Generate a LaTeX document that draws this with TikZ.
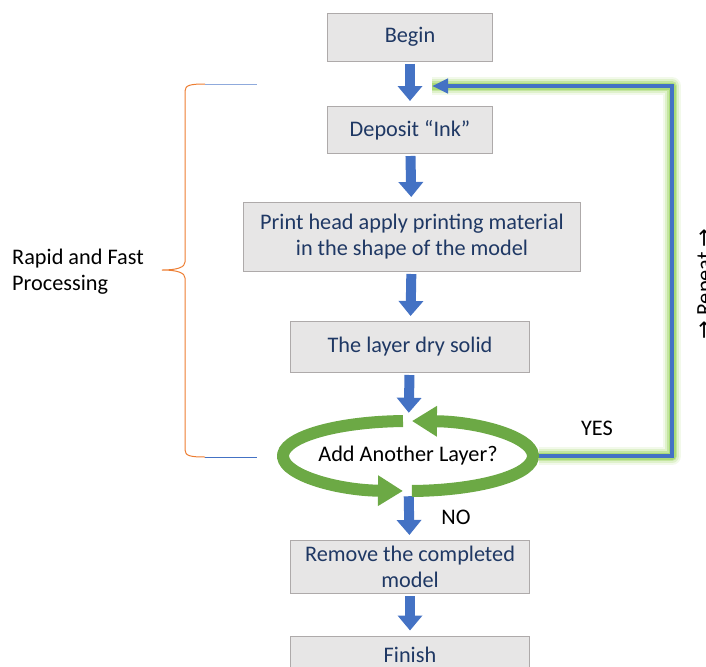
\documentclass[tikz,border=0pt]{standalone}
\usepackage{fontspec}
\setmainfont{Carlito}
\newfontfamily\symfont{DejaVu Sans}
\usetikzlibrary{arrows.meta,shapes.geometric}
\definecolor{boxgray}{HTML}{E7E6E6}
\definecolor{edgegray}{HTML}{AEAAAA}
\definecolor{inkblue}{HTML}{1F3864}
\definecolor{flowblue}{HTML}{4472C4}
\definecolor{ringgreen}{HTML}{6CA945}
\definecolor{glowgreen}{HTML}{92D050}
\definecolor{braceorange}{HTML}{ED7D31}
\definecolor{lineblue}{HTML}{8FAADC}
\newlength\pxl
\setlength\pxl{0.03cm}

\begin{document}
\begin{tikzpicture}
    [x=\pxl,y=-\pxl,
     font=\fontsize{19}{22.2}\selectfont,
     box/.style={draw=edgegray,line width=1\pxl,fill=boxgray,text=inkblue,align=center,inner sep=0pt},
     blk/.style={flowblue,line width=10\pxl,-{Triangle[length=0.45cm,width=0.72cm]},shorten <=2\pxl,shorten >=5\pxl},
     ring/.style={ringgreen,line width=12\pxl,-{Triangle[length=0.75cm,width=0.87cm]}}]

    \useasboundingbox (0,0) rectangle (706,666);

\node[box,minimum width=165\pxl,minimum height=48\pxl] (beg) at (410,37) {Begin};
\node[box,minimum width=165\pxl,minimum height=47\pxl] (ink) at (410,130) {Deposit “Ink”};
\node[box,minimum width=337\pxl,minimum height=69\pxl] (head) at (412,237) {Print head apply printing material\\in the shape of the model};
\node[box,minimum width=239\pxl,minimum height=51\pxl] (dry) at (410,347) {The layer dry solid};
\node[ellipse,inner sep=0pt,minimum width=262\pxl,minimum height=76\pxl] (add) at (408,456) {Add Another Layer?};
\node[box,minimum width=239\pxl,minimum height=53\pxl] (rem) at (410,567) {Remove the completed\\model};
\node[box,minimum width=239\pxl,minimum height=38\pxl] (fin) at (410,655) {Finish};

% main flow
\draw[blk] (beg) -- (ink);
\draw[blk] (ink) -- (head);
\draw[blk] (head) -- (dry);
\draw[blk] (dry) -- (add);
\draw[blk] (add) -- (rem);
\draw[blk] (rem) -- (fin);

% loop ring
\draw[ring] (add.center) ++(267.7:125 and 35) arc[start angle=267.7,end angle=92.3,x radius=125,y radius=35];
\draw[ring] (add.center) ++(88.2:125 and 35) arc[start angle=88.2,end angle=-88.2,x radius=125,y radius=35];

% repeat path
\coordinate (c1) at (672,456);
\coordinate (c2) at (672,86);
\coordinate (back) at (432,86);
\foreach \w/\o in {18/0.12,14/0.2,10/0.35,7/0.5}
  \draw[glowgreen,opacity=\o,line width=\w\pxl,line join=round] (add.east) -- (c1) -- (c2) -- (back);
\draw[flowblue,line width=4\pxl,-{Triangle[length=0.48cm,width=0.42cm]}] (add.east) -- (c1) -- (c2) -- (back);

\node (yes) at (597,428) {YES};
\node (no) at (456,517) {NO};
\node[rotate=90,anchor=north,inner sep=0pt] (rep) at (697,284) {{\symfont →} Repeat {\symfont →}};

% brace
\coordinate (bt) at (205,84);
\coordinate (bb) at (205,457);
\coordinate (tip) at (162,270);
\coordinate (bt2) at (257,84);
\coordinate (bb2) at (257,457);
\draw[braceorange,line width=1\pxl]
  (bt) .. controls (191,84) and (185,85) .. (185,91) -- (185,262)
  .. controls (185,267) and (178,270) .. (tip)
  .. controls (178,270) and (185,273) .. (185,278) -- (185,450)
  .. controls (185,456) and (191,457) .. (bb);
\draw[lineblue,line width=1\pxl] (bt) -- (bt2);
\draw[flowblue,line width=1\pxl] (bb) -- (bb2);
\node[anchor=west,align=left,inner sep=0pt] (rapid) at (12,272) {Rapid and Fast\\Processing};

  \end{tikzpicture}
\end{document}
